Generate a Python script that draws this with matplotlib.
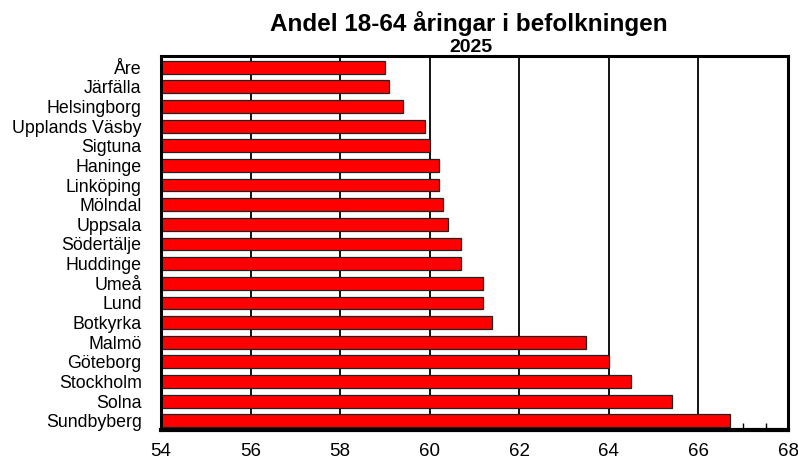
import numpy as np
import matplotlib.pyplot as plt
from matplotlib.ticker import MultipleLocator

plt.rcParams['font.family'] = ['Liberation Sans', 'DejaVu Sans']

# data
kommuner = ["Åre", "Järfälla", "Helsingborg", "Upplands Väsby", "Sigtuna",
            "Haninge", "Linköping", "Mölndal", "Uppsala", "Södertälje",
            "Huddinge", "Umeå", "Lund", "Botkyrka", "Malmö", "Göteborg",
            "Stockholm", "Solna", "Sundbyberg"]
andel = [59.0, 59.1, 59.4, 59.9, 60.0, 60.2, 60.2, 60.3, 60.4, 60.7,
         60.7, 61.2, 61.2, 61.4, 63.5, 64.0, 64.5, 65.4, 66.7]
x_ticks = [54, 56, 58, 60, 62, 64, 66, 68]

fig = plt.figure(figsize=(7.98, 4.61), dpi=100)
ax = fig.add_axes([0.2018, 0.0672, 0.7857, 0.8113])

pos = np.arange(len(kommuner))
ax.barh(pos, np.array(andel) - 54, left=54, height=0.66,
        color="#ff0000", edgecolor="#222222", linewidth=0.9, zorder=3)

ax.set_xlim(54, 68)
ax.set_ylim(18.46, -0.56)
ax.set_xticks(x_ticks)
ax.xaxis.set_minor_locator(MultipleLocator(0.5))
ax.tick_params(axis="x", which="major", length=0, labelsize=13.5, pad=9)
ax.tick_params(axis="x", which="minor", direction="in", length=5,
               width=1, color="black")
ax.set_yticks(pos)
ax.set_yticklabels(kommuner)
ax.tick_params(axis="y", length=0, labelsize=12.8, pad=14)

for v in x_ticks[1:-1]:
    ax.axvline(v, color="black", linewidth=1.3, zorder=1)

for s in ax.spines.values():
    s.set_linewidth(2.2)
    s.set_zorder(5)
ax.spines["bottom"].set_linewidth(3)

fig.text(0.587, 0.933, "Andel 18-64 åringar i befolkningen", ha="center",
         va="baseline", fontsize=17.5, fontweight="bold")
fig.text(0.590, 0.887, "2025", ha="center", va="baseline", fontsize=14,
         fontweight="bold")

fig.savefig("out.png", dpi=100)
